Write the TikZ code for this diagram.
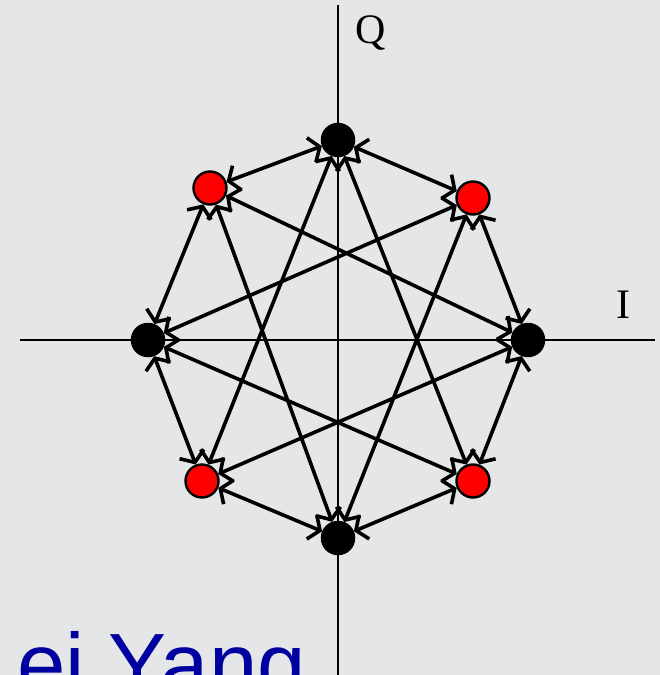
\documentclass[tikz,border=0pt]{standalone}
\usepackage{fontspec}
\setmainfont{Liberation Serif}
\newfontfamily\arialfont{Liberation Sans}
\usetikzlibrary{arrows.meta}
\definecolor{marble}{RGB}{228,230,232}
\definecolor{ptred}{RGB}{255,0,0}
\definecolor{nameblue}{RGB}{0,0,160}
\tikzset{
  axis/.style={line width=2.4pt, black},
  blackpt/.style={circle, fill=black, draw=black, line width=1.5pt, minimum size=33pt, inner sep=0pt},
  redpt/.style={circle, fill=ptred, draw=black, line width=2.4pt, minimum size=33pt, inner sep=0pt},
  trans/.style={line width=3.6pt, black, {Straight Barb[length=9pt,width=26pt]}-{Straight Barb[length=9pt,width=26pt]}},
  axlabel/.style={font=\fontsize{42}{42}\selectfont, inner sep=0pt}
}
\begin{document}
\begin{tikzpicture}[x=1pt,y=-1pt]
\useasboundingbox (0,0) rectangle (660,675);
\clip (0,0) rectangle (660,675);
\fill[marble] (0,0) rectangle (660,675);
% axes
\coordinate (qtop) at (338,5);
\coordinate (qbot) at (338,680);
\coordinate (ileft) at (20,340);
\coordinate (iright) at (655,340);
\draw[axis] (qtop) -- (qbot);
\draw[axis] (ileft) -- (iright);
\node[axlabel] (Q) at (371,33) {Q};
\node[axlabel] (I) at (623,305) {I};
% constellation points
\node[blackpt] (B1) at (338,140) {};
\node[blackpt] (B2) at (528,340) {};
\node[blackpt] (B3) at (338,538) {};
\node[blackpt] (B4) at (148,340) {};
\node[redpt] (R1) at (210,188) {};
\node[redpt] (R2) at (473,198) {};
\node[redpt] (R3) at (473,481) {};
\node[redpt] (R4) at (202,481) {};
% transitions
\foreach \b in {B1,B2,B3,B4}{
  \foreach \r in {R1,R2,R3,R4}{
    \draw[trans] (\b) -- (\r);
  }
}
% name
\node[anchor=base west, inner sep=0pt, text=nameblue, font=\arialfont\fontsize{87}{87}\selectfont] (name) at (17,694) {ei Yang};
\end{tikzpicture}
\end{document}
